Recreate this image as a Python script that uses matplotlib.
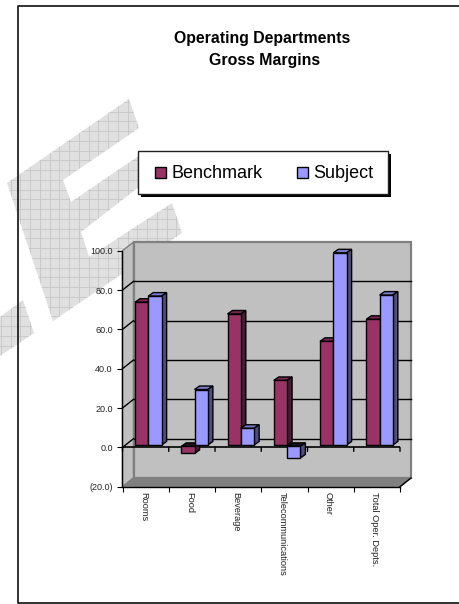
import matplotlib
matplotlib.use("Agg")
import matplotlib.pyplot as plt
from matplotlib.patches import Polygon, Rectangle
from matplotlib.transforms import Affine2D

plt.rcParams['font.family'] = ['Liberation Sans', 'DejaVu Sans']

categories = ['Rooms', 'Food', 'Beverage', 'Telecommunications', 'Other', 'Total Oper. Depts.']
benchmark = [72.6, -4.3, 66.6, 32.8, 52.7, 63.9]
subject = [75.7, 28.2, 8.5, -6.6, 97.7, 76.2]
y_ticks = [-20, 0, 20, 40, 60, 80, 100]
y_labels = ['(20.0)', '0.0', '20.0', '40.0', '60.0', '80.0', '100.0']
title = 'Operating Departments\nGross Margins'

W, H = 460, 604
fig = plt.figure(figsize=(W / 100, H / 100), dpi=100, facecolor='white')

# page layer in pixel coordinates
bg = fig.add_axes([0, 0, 1, 1], zorder=0)
bg.set_xlim(0, W)
bg.set_ylim(H, 0)
bg.axis('off')

wm_shapes = [
    [(129, 99), (139, 128), (63, 180), (71, 202), (143, 153), (153, 176), (81, 232),
     (89, 257), (172, 203), (182, 233), (53, 321), (7, 183)],
    [(23, 300), (34, 333), (0, 356), (0, 317)],
]
for pts in wm_shapes:
    p = Polygon(pts, closed=True, fc='#e0e0e0', ec='none', zorder=1)
    bg.add_patch(p)
    for gx in [1 + 9.75 * i for i in range(20)]:
        l, = bg.plot([gx, gx], [80, 370], color='#c6c6c6', lw=0.6, zorder=2)
        l.set_clip_path(p)
    for gy in [92 + 9.75 * i for i in range(30)]:
        l, = bg.plot([0, 200], [gy, gy], color='#c6c6c6', lw=0.6, zorder=2)
        l.set_clip_path(p)

# page frame, open on the right
bg.plot([W, 18, 18, W], [5.5, 5.5, 602.5, 602.5], color='#222222', lw=1.3, zorder=3, clip_on=False)

# title
bg.text(262.5, 39, title.split('\n')[0], ha='center', va='center', fontsize=11.4, fontweight='bold', color='black')
bg.text(265, 60, title.split('\n')[1], ha='center', va='center', fontsize=11.4, fontweight='bold', color='black')

# legend
bg.add_patch(Rectangle((141, 153.5), 250, 43.5, fc='black', ec='none', zorder=4))
bg.add_patch(Rectangle((138, 150.7), 250, 43.3, fc='white', ec='#222222', lw=1, zorder=5))
bg.add_patch(Rectangle((155, 166.7), 11.5, 11.5, fc='#993366', ec='black', lw=1, zorder=6))
bg.add_patch(Rectangle((297, 166.7), 11.5, 11.5, fc='#9999ff', ec='black', lw=1, zorder=6))
bg.text(172, 173, 'Benchmark', ha='left', va='center', fontsize=13, color='black', zorder=6)
bg.text(313, 173, 'Subject', ha='left', va='center', fontsize=13, color='black', zorder=6)

# chart: axes rectangle is the front plane of the 3D box
L, R, T, B = 122.5, 400, 250.7, 486.7
ax = fig.add_axes([L / W, 1 - B / H, (R - L) / W, (B - T) / H], zorder=1)
ax.patch.set_alpha(0)
n = len(categories)
ax.set_xlim(-0.5, n - 0.5)
ax.set_ylim(y_ticks[0], y_ticks[-1])


def off(dx, dy):
    return ax.transData + Affine2D().translate(dx, dy)


DX, DY = 11, 8.7
x0, x1 = -0.5, n - 0.5
y0, y1 = y_ticks[0], y_ticks[-1]
back = off(DX, DY)
# left wall: front edge in data coordinates, rear edge shifted
side_pts = ax.transData.transform([(x0, y0), (x0, y1)])
rear = back.transform([(x0, y1), (x0, y0)])
inv = ax.transData.inverted()
side = Polygon(inv.transform(list(side_pts) + list(rear)), closed=True, fc='#c0c0c0', ec='#808080', lw=1.0,
               zorder=1, clip_on=False)
ax.add_patch(side)
ax.add_patch(Rectangle((x0, y0), x1 - x0, y1 - y0, transform=back, fc='#c0c0c0', ec='#808080', lw=1.6,
                       zorder=1, clip_on=False))
floor_pts = list(ax.transData.transform([(x0, y0), (x1, y0)])) + list(back.transform([(x1, y0), (x0, y0)]))
ax.add_patch(Polygon(inv.transform(floor_pts), closed=True, fc='#808080', ec='#808080', lw=1, zorder=2, clip_on=False))
# floor front-right corner
pr = inv.transform(list(ax.transData.transform([(x1, y0)])) + list(back.transform([(x1, y0)])))
ax.plot(pr[:, 0], pr[:, 1], color='black', lw=1, zorder=3, clip_on=False)

# gridlines on back wall and left wall
for v in y_ticks[1:-1]:
    ax.plot([x0, x1], [v, v], transform=back, color='black', lw=1, zorder=3, clip_on=False)
    s = inv.transform(list(ax.transData.transform([(x0, v)])) + list(back.transform([(x0, v)])))
    ax.plot(s[:, 0], s[:, 1], color='black', lw=1, zorder=3, clip_on=False)

# zero axis with ticks
ax.axhline(0, color='black', lw=1.2, zorder=4)
for i in range(n + 1):
    b = i - 0.5
    ax.annotate('', xy=(b, 0), xytext=(0, -4), textcoords='offset pixels',
                arrowprops=dict(arrowstyle='-', color='black', lw=1, shrinkA=0, shrinkB=0), zorder=4)

# 3D bars
BAR_W = 13.3 / ((R - L) / n)
OFFX, OFFY = 2.7, 2.4
DEPX, DEPY = 5, 3.5
NEG_DROP = 1.4 / ((B - T) / (y1 - y0))
front = off(OFFX, OFFY)
rearb = off(OFFX + DEPX, OFFY + DEPY)


def bar3d(xc, v, fc, top_c, side_c, z):
    a, b = xc - BAR_W / 2, xc + BAR_W / 2
    hi = max(v, 0) if v >= 0 else -NEG_DROP
    lo = min(v, 0)
    fpx = front.transform([(a, hi), (b, hi), (b, lo)])
    rpx = rearb.transform([(a, hi), (b, hi), (b, lo)])
    top = inv.transform([fpx[0], fpx[1], rpx[1], rpx[0]])
    sd = inv.transform([fpx[1], rpx[1], rpx[2], fpx[2]])
    ax.add_patch(Polygon(top, closed=True, fc=top_c, ec='black', lw=1.0, zorder=z, clip_on=False))
    ax.add_patch(Polygon(sd, closed=True, fc=side_c, ec='black', lw=1.0, zorder=z, clip_on=False))
    ax.bar(xc, hi - lo, BAR_W, bottom=lo, color=fc, edgecolor='black', lw=1.0, transform=front, zorder=z + 0.1,
           clip_on=False)


for i in range(n):
    z = 5 + i
    bar3d(i - BAR_W / 2, benchmark[i], '#993366', '#7a2851' if benchmark[i] >= 0 else '#26101c', '#4d1a33', z)
    bar3d(i + BAR_W / 2, subject[i], '#9999ff', '#7a7acc' if subject[i] >= 0 else '#14141f', '#4d4d80', z + 0.3)

# axes furniture
for s in ('top', 'right'):
    ax.spines[s].set_visible(False)
for s in ('left', 'bottom'):
    ax.spines[s].set_color('black')
    ax.spines[s].set_linewidth(1.0)
    ax.spines[s].set_zorder(20)
ax.set_yticks(y_ticks, y_labels, fontsize=6.5, color='#222222')
ax.tick_params(axis='y', length=3.6, width=0.8, pad=3.5)
ax.set_xticks([i - 0.5 for i in range(n + 1)], [''] * (n + 1))
ax.tick_params(axis='x', length=3.6, width=0.8)
for i, c in enumerate(categories):
    ax.annotate(c, xy=(i, y0), xytext=(-2, -5.5), textcoords='offset pixels', rotation=270, ha='center', va='top',
                fontsize=6.7, color='#222222', annotation_clip=False)

fig.savefig('out.png', dpi=100, facecolor='white')
